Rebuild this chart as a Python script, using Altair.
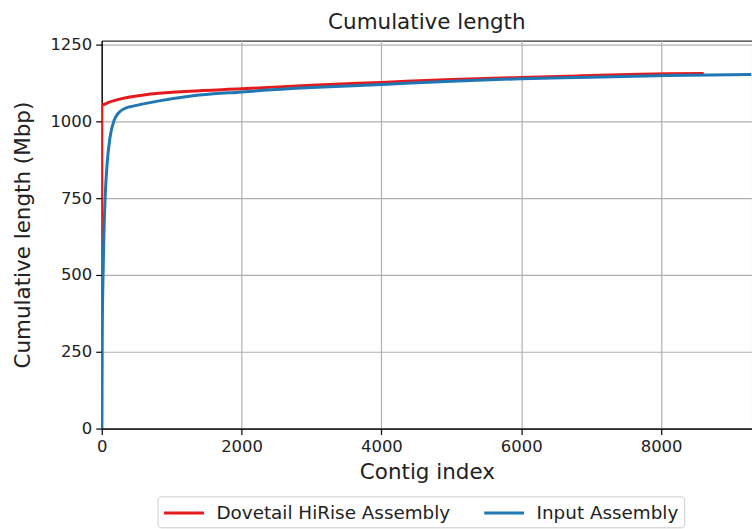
import altair as alt
import pandas as pd

# Dovetail HiRise Assembly (red)
hirise_index = [0, 1, 30, 100, 300, 600, 1254, 2000, 3000, 4000, 5000, 6000, 6800, 8100, 8610]
hirise_mbp = [0, 1052, 1055, 1062, 1075, 1086, 1098, 1106, 1118, 1127, 1136, 1143, 1148, 1155, 1156]

# Input Assembly (blue)
input_index = [0, 5, 15, 30, 50, 80, 120, 180, 250, 330, 500, 800, 1254, 2000, 3000, 4000, 5000, 6000, 6800, 8100, 9290]
input_mbp = [0, 250, 450, 620, 760, 870, 950, 1005, 1030, 1042, 1052, 1066, 1082, 1096, 1110, 1120, 1131, 1139, 1143, 1149, 1153]

series_names = ["Dovetail HiRise Assembly", "Input Assembly"]
series_colors = ["#e41a1c", "#1f77b4"]
x_ticks = [0, 2000, 4000, 6000, 8000]
y_ticks = [0, 250, 500, 750, 1000, 1250]

df_h = pd.DataFrame({"index": hirise_index, "mbp": hirise_mbp, "series": series_names[0]})
df_i = pd.DataFrame({"index": input_index, "mbp": input_mbp, "series": series_names[1]})

x_enc = alt.X("index:Q", title="Contig index",
              scale=alt.Scale(domain=[0, 9300], nice=False, zero=False),
              axis=alt.Axis(values=x_ticks, format="d", labelFlush=False))
y_enc = alt.Y("mbp:Q", title="Cumulative length (Mbp)",
              scale=alt.Scale(domain=[0, 1263], nice=False),
              axis=alt.Axis(values=y_ticks, format="d", labelFlush=False))
color_enc = alt.Color("series:N", title=None,
                      scale=alt.Scale(domain=series_names, range=series_colors),
                      legend=alt.Legend(orient="none", legendX=56, legendY=457,
                                        direction="horizontal",
                                        symbolType="M-2,0L2,0", symbolSize=400,
                                        symbolOffset=10, symbolStrokeWidth=3,
                                        labelFontSize=18.4, labelFont="DejaVu Sans",
                                        labelColor="#222222", labelOffset=21,
                                        labelLimit=500,
                                        columnPadding=27, padding=5,
                                        strokeColor="#cccccc", cornerRadius=3,
                                        fillColor="white"))

red = alt.Chart(df_h).mark_line(strokeWidth=3, interpolate="monotone", clip=True).encode(
    x=x_enc, y=y_enc, color=color_enc, order="index:Q")
blue = alt.Chart(df_i).mark_line(strokeWidth=3, interpolate="monotone", clip=True).encode(
    x=x_enc, y=y_enc, color=color_enc, order="index:Q")

chart = alt.layer(red, blue).properties(
    width=652, height=389,
    title=alt.TitleParams("Cumulative length", fontSize=21.5, font="DejaVu Sans",
                          fontWeight="normal", color="#222222", anchor="middle", offset=3),
    autosize=alt.AutoSizeParams(type="none"),
    padding={"left": 102, "top": 40, "right": 0, "bottom": 100},
).configure_view(stroke="black", strokeWidth=1).configure_axis(
    domainColor="black", domainWidth=1.2, tickColor="black", tickSize=6, tickWidth=1.2,
    gridColor="#b0b0b0", gridWidth=1.2, labelFontSize=16.5, labelFont="DejaVu Sans",
    labelColor="#222222", titleFontSize=21.5, titleFont="DejaVu Sans",
    titleFontWeight="normal", titleColor="#222222", labelPadding=4,
).configure_axisY(titlePadding=15).configure_axisX(titlePadding=7)

chart.save("out.html", embed_options={"renderer": "svg", "actions": False})
